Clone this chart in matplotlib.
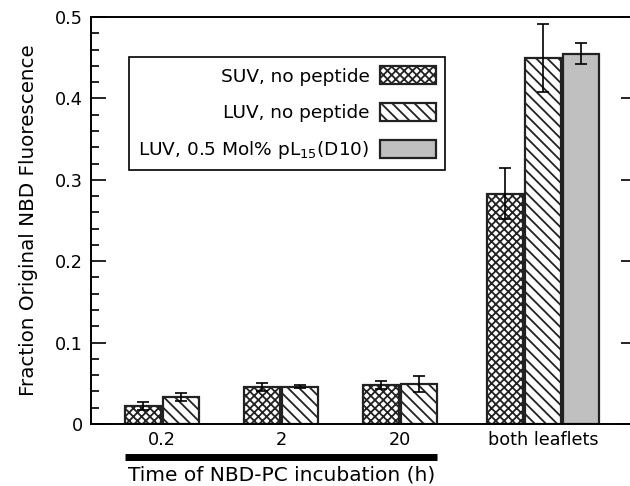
import matplotlib.pyplot as plt
from matplotlib.transforms import blended_transform_factory

plt.rcParams['font.family'] = 'DejaVu Sans'
plt.rcParams['hatch.linewidth'] = 1.3
plt.rcParams['hatch.color'] = '#222222'

# Dados
grupos = ['0.2', '2', '20', 'both leaflets']
pos_grupos = [0, 1, 2, 3.2]

suv = [0.022, 0.045, 0.048, 0.283]
suv_err = [0.005, 0.005, 0.005, 0.031]
luv = [0.033, 0.046, 0.049, 0.450]
luv_err = [0.005, 0.002, 0.010, 0.042]
pep = [0.455]
pep_err = [0.013]

rotulos = ['SUV, no peptide', 'LUV, no peptide', 'LUV, 0.5 Mol% pL$_{15}$(D10)']

w = 0.30
passo = 0.32
x_suv = [p - passo / 2 for p in pos_grupos[:3]] + [pos_grupos[3] - passo]
x_luv = [p + passo / 2 for p in pos_grupos[:3]] + [pos_grupos[3]]
x_pep = [pos_grupos[3] + passo]

fig = plt.figure(figsize=(6.3, 4.86), dpi=100)
ax = fig.add_axes([91 / 630, 62 / 486, 545 / 630, 407 / 486])

ek = dict(ecolor='black', elinewidth=1.2, capsize=4, capthick=1.2)
ax.bar(x_suv, suv, w, yerr=suv_err, color='white', edgecolor='#222222',
       linewidth=1.6, hatch='xxxx', label=rotulos[0], error_kw=ek)
ax.bar(x_luv, luv, w, yerr=luv_err, color='white', edgecolor='#222222',
       linewidth=1.6, hatch='\\\\\\', label=rotulos[1], error_kw=ek)
ax.bar(x_pep, pep, w, yerr=pep_err, color='#c0c0c0', edgecolor='#222222',
       linewidth=1.6, label=rotulos[2], error_kw=ek)

ax.set_xlim(-0.597, 3.98)
ax.set_ylim(0, 0.5)
ax.set_xticks(pos_grupos)
ax.set_xticklabels(grupos, fontsize=12.7)
ax.tick_params(axis='x', length=0, pad=5)
ax.set_yticks([0, 0.1, 0.2, 0.3, 0.4, 0.5])
ax.set_yticklabels(['0', '0.1', '0.2', '0.3', '0.4', '0.5'], fontsize=12.7)
ax.set_yticks([i * 0.02 for i in range(26)], minor=True)
ax.tick_params(axis='y', which='major', direction='in', length=11, width=1.2,
               right=True, pad=6)
ax.tick_params(axis='y', which='minor', direction='in', length=6, width=1.2)
ax.spines['right'].set_visible(False)
for s in ['left', 'top', 'bottom']:
    ax.spines[s].set_linewidth(1.4)

ax.set_ylabel('Fraction Original NBD Fluorescence', fontsize=14.3, labelpad=12)

# Barra preta sob os tempos de incubacao e rotulo
tr = blended_transform_factory(ax.transData, ax.transAxes)
ax.plot([x_suv[0] - w / 2, x_luv[2] + w / 2], [-0.081, -0.081], color='black',
        linewidth=5, transform=tr, clip_on=False, solid_capstyle='butt')
ax.text(pos_grupos[1], -0.125, 'Time of NBD-PC incubation (h)', fontsize=14.5,
        ha='center', va='center', transform=tr)

leg = ax.legend(loc='upper left', bbox_to_anchor=(0.07, 0.902), borderaxespad=0,
                markerfirst=False, fontsize=13.3, handlelength=3.05,
                handleheight=1.15, labelspacing=0.92, handletextpad=0.55,
                fancybox=False, framealpha=1, edgecolor='black', borderpad=0.5)
leg.get_frame().set_linewidth(1.2)
for t in leg.get_texts():
    t.set_ha('right')

fig.savefig('out.png', dpi=100)
